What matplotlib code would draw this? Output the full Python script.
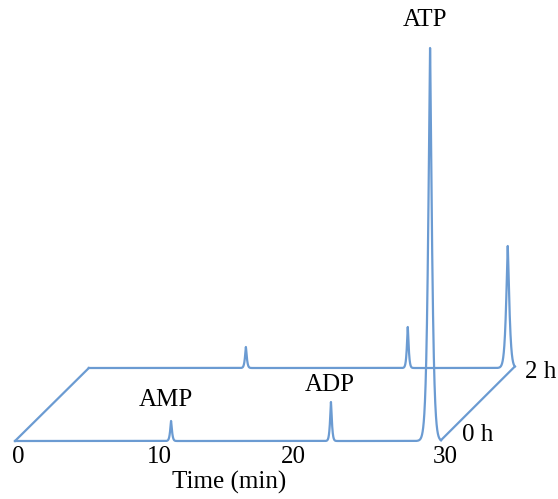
#!/usr/bin/env python3
"""HPLC 色谱图（0 h / 2 h）伪三维叠加，输出 out.png。"""

import numpy as np
import matplotlib.pyplot as plt

# 峰：保留时间 (min)、峰高、峰宽 (min)
peak_names = ["AMP", "ADP", "ATP"]
rt_0h = [10.99, 22.25, 29.23]
height_0h = [20, 39, 393]
width_0h = [0.09, 0.09, 0.19]

rt_2h = [11.06, 22.46, 29.5]
height_2h = [21, 41, 122]
width_2h = [0.09, 0.09, 0.16]

run_end = 30.0
tick_vals = [0, 10, 20, 30]
tick_labels = ["0", "10", "20", "30"]
trace_labels = ["0 h", "2 h"]

# 后一条谱线的斜向偏移
dx, dy = 5.2, 73

COLOR = "#6b9bd2"


def trace(t, rts, heights, widths):
    y = np.zeros_like(t)
    for r, h, w in zip(rts, heights, widths):
        y += h * np.exp(-(np.abs(t - r) / w) ** 1.3)
    return y


t = np.linspace(0, run_end, 6001)
y0 = trace(t, rt_0h, height_0h, width_0h)
y2 = trace(t, rt_2h, height_2h, width_2h)

plt.rcParams["font.family"] = ["Liberation Serif", "DejaVu Serif"]

fig = plt.figure(figsize=(5.58, 4.99), dpi=100)
ax = fig.add_axes([0, 0, 1, 1])
ax.set_xlim(-15 / 14.2, (558 - 15) / 14.2)
ax.set_ylim(-58, 441)
ax.axis("off")

lw = 1.6
ax.plot(t, y0, color=COLOR, lw=lw, solid_joinstyle="round")
ax.plot(t + dx, y2 + dy, color=COLOR, lw=lw, solid_joinstyle="round")
# 连接两条谱线的斜线
ax.plot([0, dx], [y0[0], y2[0] + dy], color=COLOR, lw=lw)
ax.plot([run_end, run_end + dx], [y0[-1], y2[-1] + dy], color=COLOR, lw=lw)

fs = 18
tick_x = [0.2, 10.2, 19.6, 30.3]
for x, lab in zip(tick_x, tick_labels):
    ax.text(x, -16, lab, ha="center", va="center", fontsize=fs)
ax.text(15.1, -41, "Time (min)", ha="center", va="center", fontsize=fs)

label_pos = [(10.63, 41), (22.18, 56), (28.87, 421)]
for (x, y), name in zip(label_pos, peak_names):
    ax.text(x, y, name, ha="center", va="center", fontsize=fs)

ax.text(32.6, 6, trace_labels[0], ha="center", va="center", fontsize=fs)
ax.text(37.0, 69, trace_labels[1], ha="center", va="center", fontsize=fs)

fig.savefig("out.png", dpi=100)
